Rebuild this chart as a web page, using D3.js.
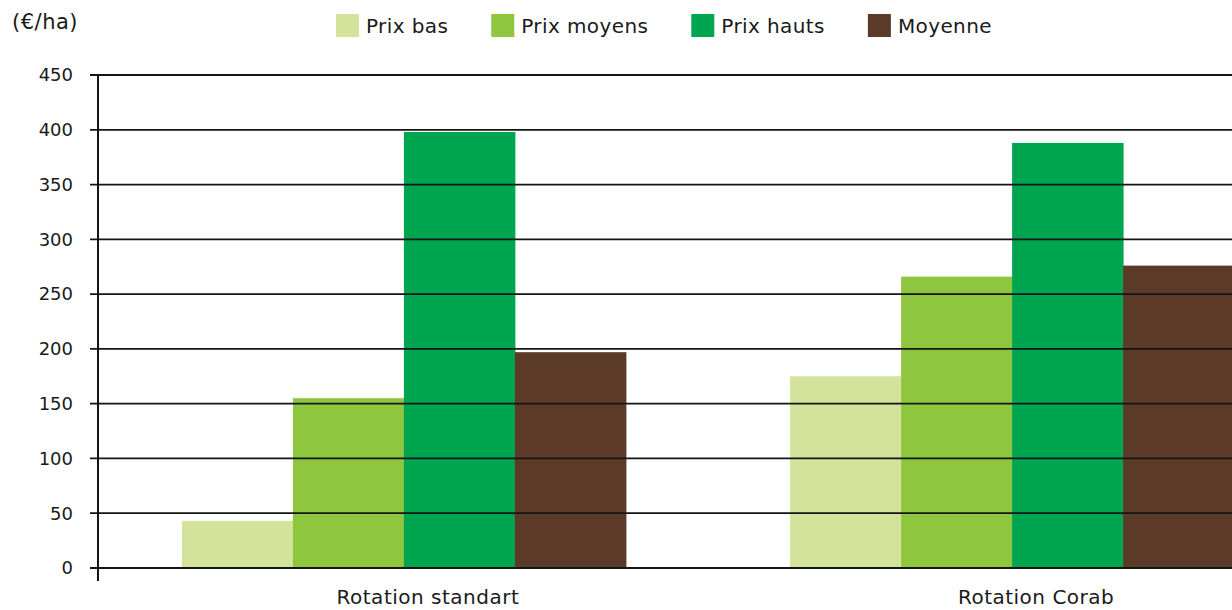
<!DOCTYPE html>
<html>
<head>
<meta charset="utf-8">
<script src="https://cdn.jsdelivr.net/npm/d3@7"></script>
<style>
  html, body { margin: 0; padding: 0; background: #fff; }
  svg { display: block; font-family: "DejaVu Sans", sans-serif; }
</style>
</head>
<body>
<svg id="chart" width="1232" height="610"></svg>
<script>
const categories = ["Rotation standart", "Rotation Corab"];
const seriesNames = ["Prix bas", "Prix moyens", "Prix hauts", "Moyenne"];
const prixBas = [43, 175];
const prixMoyens = [155, 266];
const prixHauts = [398, 388];
const moyenne = [197, 276];
const yTicks = [0, 50, 100, 150, 200, 250, 300, 350, 400, 450];
const unitLabel = "(€/ha)";
const colors = ["#d3e39c", "#8fc640", "#00a54f", "#5b3b27"];

const seriesValues = [prixBas, prixMoyens, prixHauts, moyenne];
const rows = [];
categories.forEach((c, ci) => {
  seriesNames.forEach((s, si) => rows.push({ cat: c, series: s, value: seriesValues[si][ci], si }));
});

const svg = d3.select("#chart");
const axisX = 98;
const textColor = "#1a1a1a";
const y = d3.scaleLinear().domain([0, 450]).range([568, 75]);
const x0 = d3.scaleBand().domain(categories).range([axisX, 1318]).paddingInner(0.27).paddingOuter(0.138);
const x1 = d3.scaleBand().domain(seriesNames).range([0, x0.bandwidth()]).padding(0);
const color = d3.scaleOrdinal().domain(seriesNames).range(colors);

// bars
svg.append("g").selectAll("rect").data(rows).join("rect")
  .attr("x", d => x0(d.cat) + x1(d.series))
  .attr("y", d => y(d.value))
  .attr("width", x1.bandwidth() + 0.5)
  .attr("height", d => y(0) - y(d.value))
  .attr("fill", d => color(d.series));

// gridlines (drawn over bars) with left tick stubs
svg.append("g").selectAll("line").data(yTicks).join("line")
  .attr("x1", axisX - 8).attr("x2", 1232)
  .attr("y1", d => y(d)).attr("y2", d => y(d))
  .attr("stroke", "#151515").attr("stroke-width", 1.8);

// y axis line
svg.append("line")
  .attr("x1", axisX).attr("x2", axisX)
  .attr("y1", y(450)).attr("y2", y(0) + 13)
  .attr("stroke", "#151515").attr("stroke-width", 2);

// y tick labels
svg.append("g").selectAll("text").data(yTicks).join("text")
  .attr("x", 73).attr("y", d => y(d)).attr("dy", "0.35em")
  .attr("text-anchor", "end").attr("font-size", 18).attr("fill", textColor)
  .text(d => d);

// unit label
svg.append("text").attr("x", 12).attr("y", 29)
  .attr("font-size", 21).attr("letter-spacing", 0.5).attr("fill", textColor).text(unitLabel);

// category labels
svg.append("g").selectAll("text").data(categories).join("text")
  .attr("x", d => x0(d) + x0.bandwidth() / 2 + 24).attr("y", 604)
  .attr("text-anchor", "middle").attr("font-size", 20).attr("letter-spacing", 0.5).attr("fill", textColor)
  .text(d => d);

// legend
const legend = svg.append("g");
let lx = 336;
seriesNames.forEach((s, i) => {
  const g = legend.append("g").attr("transform", `translate(${lx},0)`);
  g.append("rect").attr("x", 0).attr("y", 14).attr("width", 23).attr("height", 23).attr("fill", color(s));
  const t = g.append("text").attr("x", 30).attr("y", 33).attr("font-size", 20)
    .attr("letter-spacing", 0.4).attr("fill", textColor).text(s);
  lx += 30 + t.node().getComputedTextLength() + 43;
});
</script>
</body>
</html>
